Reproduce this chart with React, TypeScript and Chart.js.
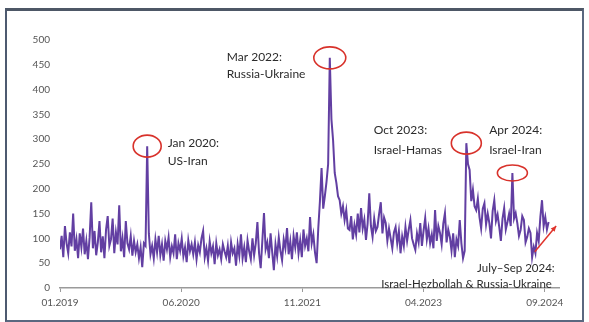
import React, { useEffect, useRef } from "react";
import { Chart, registerables } from "chart.js";

Chart.register(...registerables);

// Weekly index values (week 0 = first week of Jan 2019)
const values2019 = [78, 105, 62, 125, 90, 70, 112, 84, 150, 75, 98, 60, 110, 82, 120, 68, 95, 58, 102, 173, 80, 115, 66, 92, 135, 72, 104, 60, 118, 145, 85, 98, 140, 70, 112, 88, 167, 74, 100, 62, 135, 90, 78, 105, 65, 95, 72, 88, 60, 82, 42, 90];
const values2020 = [85, 286, 110, 68, 85, 60, 98, 72, 105, 66, 88, 55, 95, 78, 102, 62, 84, 70, 108, 58, 90, 75, 100, 64, 82, 52, 96, 74, 88, 68, 92, 58, 86, 72, 100, 115, 62, 80, 55, 94, 70, 84, 48, 90, 66, 78, 58, 88, 74, 62, 85, 50];
const values2021 = [92, 70, 80, 45, 88, 65, 108, 60, 82, 52, 96, 74, 58, 100, 66, 90, 133, 70, 40, 95, 151, 78, 92, 60, 110, 72, 36, 88, 64, 102, 75, 56, 98, 80, 121, 68, 94, 58, 105, 82, 112, 70, 96, 62, 118, 85, 100, 74, 143, 90, 108, 72];
const values2022 = [50, 120, 175, 242, 160, 185, 214, 250, 464, 340, 298, 232, 212, 185, 177, 150, 165, 137, 157, 120, 117, 145, 98, 127, 108, 150, 112, 161, 120, 138, 97, 130, 191, 125, 103, 140, 115, 123, 150, 173, 110, 142, 131, 95, 120, 100, 80, 112, 123, 90, 115, 70];
const values2023 = [104, 85, 123, 95, 118, 137, 100, 88, 77, 110, 92, 131, 85, 115, 141, 98, 120, 90, 108, 80, 157, 95, 125, 111, 88, 130, 151, 92, 118, 103, 75, 110, 62, 98, 85, 137, 90, 60, 75, 292, 250, 238, 175, 198, 165, 157, 180, 143, 120, 160, 171, 128];
const values2024 = [150, 131, 100, 155, 177, 135, 148, 123, 95, 140, 161, 118, 133, 150, 125, 232, 140, 151, 131, 105, 117, 145, 137, 92, 103, 120, 111, 62, 83, 70, 111, 95, 143, 177, 125, 143, 118, 133];

// X axis (months since Jan 2019)
const tickMonths = [0, 17, 34, 51, 68];
const tickLabels = ["01.2019", "06.2020", "11.2021", "04.2023", "09.2024"];
const yTicks = [0, 50, 100, 150, 200, 250, 300, 350, 400, 450, 500];

// Highlighted events: week index of the spike
const eventWeeks = [53, 164, 247, 275];
const eventRx = [14, 16, 15, 15];
const eventRy = [11, 11, 11, 8];

// Annotation text: [month, value, text, align]
const noteMonths = [15.1, 15.1, 23.4, 23.4, 44.0, 44.0, 60.2, 60.2, 69.4, 69.0];
const noteValues = [292, 256, 466, 432, 318, 278, 318, 278, 40, 8];
const noteTexts = ["Jan 2020:", "US-Iran", "Mar 2022:", "Russia-Ukraine", "Oct 2023:", "Israel-Hamas", "Apr 2024:", "Israel-Iran", "July–Sep 2024:", "Israel-Hezbollah & Russia-Ukraine"];
const noteAlign = ["left", "left", "left", "left", "left", "left", "left", "left", "right", "right"];

// Arrow (month, value)
const arrowFrom = [66.6, 73];
const arrowTo = [69.6, 125];

const allValues = [...values2019, ...values2020, ...values2021, ...values2022, ...values2023, ...values2024];
const weekToMonth = (i: number) => (i * 12) / 52;

const annotationPlugin = {
  id: "notes",
  afterDatasetsDraw(chart: any) {
    const { ctx, scales } = chart;
    const xs = scales.x;
    const ys = scales.y;
    ctx.save();
    // ellipses
    ctx.strokeStyle = "#d8322b";
    ctx.lineWidth = 1.6;
    eventWeeks.forEach((w, k) => {
      const cx = xs.getPixelForValue(weekToMonth(w));
      const cy = ys.getPixelForValue(allValues[w]);
      ctx.beginPath();
      ctx.ellipse(cx, cy, eventRx[k], eventRy[k], 0, 0, Math.PI * 2);
      ctx.stroke();
    });
    // arrow
    const x1 = xs.getPixelForValue(arrowFrom[0]);
    const y1 = ys.getPixelForValue(arrowFrom[1]);
    const x2 = xs.getPixelForValue(arrowTo[0]);
    const y2 = ys.getPixelForValue(arrowTo[1]);
    ctx.strokeStyle = "#e0342c";
    ctx.fillStyle = "#e0342c";
    ctx.lineWidth = 1.5;
    ctx.beginPath();
    ctx.moveTo(x1, y1);
    ctx.lineTo(x2, y2);
    ctx.stroke();
    const ang = Math.atan2(y2 - y1, x2 - x1);
    ctx.beginPath();
    ctx.moveTo(x2, y2);
    ctx.lineTo(x2 - 6 * Math.cos(ang - 0.45), y2 - 6 * Math.sin(ang - 0.45));
    ctx.lineTo(x2 - 6 * Math.cos(ang + 0.45), y2 - 6 * Math.sin(ang + 0.45));
    ctx.closePath();
    ctx.fill();
    // texts
    ctx.fillStyle = "#2b2b2b";
    ctx.textBaseline = "middle";
    noteTexts.forEach((t, k) => {
      ctx.font = k >= 8 ? "11.5px Lato" : "12px Lato";
      ctx.textAlign = noteAlign[k] as CanvasTextAlign;
      ctx.fillText(t, xs.getPixelForValue(noteMonths[k]), ys.getPixelForValue(noteValues[k]));
    });
    ctx.restore();
  },
};

export default function App() {
  const ref = useRef<HTMLCanvasElement>(null);
  useEffect(() => {
    if (!ref.current) return;
    const points = allValues.map((v, i) => ({ x: weekToMonth(i), y: v }));
    const chart = new Chart(ref.current, {
      type: "line",
      data: {
        datasets: [
          {
            data: points,
            borderColor: "#623fa2",
            borderWidth: 2,
            pointRadius: 0,
            tension: 0,
            fill: false,
          },
        ],
      },
      options: {
        animation: false,
        responsive: false,
        events: [],
        layout: { padding: { left: 0, right: 30, top: 40, bottom: 0 } },
        plugins: { legend: { display: false }, tooltip: { enabled: false } },
        scales: {
          x: {
            type: "linear",
            min: 0,
            max: 70,
            afterBuildTicks: (s: any) => {
              s.ticks = tickMonths.map((v) => ({ value: v }));
            },
            afterFit: (s: any) => {
              s.height = 34;
            },
            ticks: {
              autoSkip: false,
              maxRotation: 0,
              padding: 5,
              color: "#555",
              font: { family: "Lato", size: 10 },
              callback: (v: any) => {
                const k = tickMonths.indexOf(Number(v));
                return k >= 0 ? tickLabels[k] : "";
              },
            },
            grid: { drawOnChartArea: false, drawTicks: true, tickLength: 4, color: "#9a9a9a" },
            border: { display: true, color: "#9a9a9a", width: 1.5 },
          },
          y: {
            min: 0,
            max: 500,
            afterBuildTicks: (s: any) => {
              s.ticks = yTicks.map((v) => ({ value: v }));
            },
            afterFit: (s: any) => {
              s.width = 60;
            },
            ticks: { padding: 10, color: "#555", font: { family: "Lato", size: 10 } },
            grid: { display: false, drawTicks: false },
            border: { display: false },
          },
        },
      },
      plugins: [annotationPlugin],
    });
    return () => chart.destroy();
  }, []);

  return (
    <div style={{ position: "fixed", left: 0, top: 0, width: 589, height: 322, background: "#fff" }}>
      <div
        style={{
          position: "absolute",
          left: 5,
          top: 8,
          width: 575,
          height: 309,
          borderTop: "3px solid #4d5766",
          borderLeft: "2px solid #4d5a70",
          borderRight: "2px solid #5a6880",
          borderBottom: "2px solid #5a6880",
        }}
      />
      <canvas ref={ref} width={589} height={322} style={{ position: "absolute", left: 0, top: 0 }} />
    </div>
  );
}
